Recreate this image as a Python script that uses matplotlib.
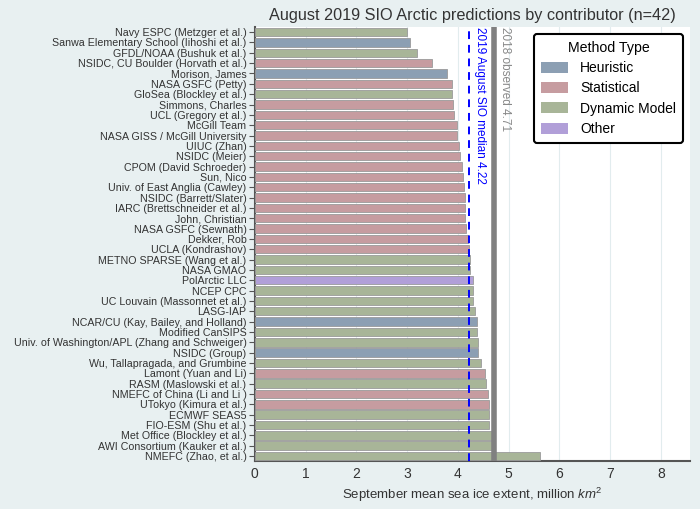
import matplotlib
matplotlib.use("Agg")
import matplotlib.pyplot as plt
from matplotlib.patches import Patch

plt.rcParams['font.family'] = ['Liberation Sans', 'DejaVu Sans']
plt.rcParams['mathtext.fontset'] = 'custom'
plt.rcParams['mathtext.it'] = 'Liberation Sans:italic'
plt.rcParams['mathtext.rm'] = 'Liberation Sans'

# contributors, top to bottom as in the chart
contributors = [
    "Navy ESPC (Metzger et al.)", "Sanwa Elementary School (Iihoshi et al.)",
    "GFDL/NOAA (Bushuk et al.)", "NSIDC, CU Boulder (Horvath et al.)",
    "Morison, James", "NASA GSFC (Petty)", "GloSea (Blockley et al.)",
    "Simmons, Charles", "UCL (Gregory et al.)", "McGill Team",
    "NASA GISS / McGill University", "UIUC (Zhan)", "NSIDC (Meier)",
    "CPOM (David Schroeder)", "Sun, Nico", "Univ. of East Anglia (Cawley)",
    "NSIDC (Barrett/Slater)", "IARC (Brettschneider et al.)", "John, Christian",
    "NASA GSFC (Sewnath)", "Dekker, Rob", "UCLA (Kondrashov)",
    "METNO SPARSE (Wang et al.)", "NASA GMAO", "PolArctic LLC", "NCEP CPC",
    "UC Louvain (Massonnet et al.)", "LASG-IAP", "NCAR/CU (Kay, Bailey, and Holland)",
    "Modified CanSIPS", "Univ. of Washington/APL (Zhang and Schweiger)",
    "NSIDC (Group)", "Wu, Tallapragada, and Grumbine", "Lamont (Yuan and Li)",
    "RASM (Maslowski et al.)", "NMEFC of China (Li and Li )", "UTokyo (Kimura et al.)",
    "ECMWF SEAS5", "FIO-ESM (Shu et al.)", "Met Office (Blockley et al.)",
    "AWI Consortium (Kauker et al.)", "NMEFC (Zhao, et al.)",
]
extent = [
    3.00, 3.05, 3.20, 3.50, 3.79, 3.88, 3.89, 3.90, 3.92, 3.98,
    3.99, 4.02, 4.04, 4.08, 4.11, 4.13, 4.15, 4.15, 4.15, 4.16,
    4.20, 4.23, 4.24, 4.25, 4.29, 4.30, 4.30, 4.34, 4.38, 4.38,
    4.39, 4.39, 4.46, 4.53, 4.56, 4.59, 4.61, 4.62, 4.62, 4.69,
    4.71, 5.62,
]
method = [
    "Dynamic Model", "Heuristic", "Dynamic Model", "Statistical", "Heuristic",
    "Statistical", "Dynamic Model", "Statistical", "Statistical", "Statistical",
    "Statistical", "Statistical", "Statistical", "Statistical", "Statistical",
    "Statistical", "Statistical", "Statistical", "Statistical", "Statistical",
    "Statistical", "Statistical", "Dynamic Model", "Dynamic Model", "Other",
    "Dynamic Model", "Dynamic Model", "Dynamic Model", "Heuristic", "Dynamic Model",
    "Dynamic Model", "Heuristic", "Dynamic Model", "Statistical", "Dynamic Model",
    "Statistical", "Statistical", "Dynamic Model", "Dynamic Model", "Dynamic Model",
    "Dynamic Model", "Dynamic Model",
]
method_types = ["Heuristic", "Statistical", "Dynamic Model", "Other"]
median_2019 = 4.22
observed_2018 = 4.71

palette = {
    "Heuristic": "#8c9fb3",
    "Statistical": "#c69ca0",
    "Dynamic Model": "#a8b598",
    "Other": "#b19fd8",
}

fig = plt.figure(figsize=(7, 5.09), dpi=100, facecolor="#e8f0f1")
ax = fig.add_axes([0.364, 0.094, 0.622, 0.853])
ax.set_facecolor("white")

ypos = list(range(len(contributors)))
ax.barh(ypos, extent, height=0.82,
        color=[palette[m] for m in method],
        edgecolor="#9a9a9a", linewidth=0.6, zorder=3)

ax.axvline(median_2019, color="blue", linestyle=(0, (4, 3)), lw=1.4, zorder=4)
ax.axvline(observed_2018, color="#808080", lw=4, zorder=4)
ax.text(median_2019 + 0.1, -0.45, f"2019 August SIO median {median_2019:.2f}",
        rotation=-90, color="blue", fontsize=8.5, va="top", ha="left", zorder=5)
ax.text(observed_2018 + 0.1, -0.45, f"2018 observed {observed_2018:.2f}",
        rotation=-90, color="#888888", fontsize=8.5, va="top", ha="left", zorder=5)

ax.set_yticks(ypos)
ax.set_yticklabels(contributors, fontsize=7.7, color="#333333")
ax.set_ylim(len(contributors) - 0.5, -0.5)
ax.set_xlim(0, 8.58)
ax.set_xticks(range(0, 9))
ax.tick_params(axis="x", labelsize=10, colors="#333333", length=0, pad=4)
ax.tick_params(axis="y", length=4, width=0.8, color="#555555", pad=2)
ax.grid(axis="x", color="#e2ecee", lw=0.8, zorder=0)
ax.set_axisbelow(True)

for side in ["top", "right"]:
    ax.spines[side].set_visible(False)
for side in ["left", "bottom"]:
    ax.spines[side].set_color("#555555")
    ax.spines[side].set_linewidth(1.5)

ax.set_xlabel("September mean sea ice extent, million $km^2$", fontsize=9.5,
              color="#333333", labelpad=4)
ax.set_title("August 2019 SIO Arctic predictions by contributor (n=42)",
             fontsize=11.7, color="#333333", pad=5)

handles = [Patch(facecolor=palette[m], edgecolor="none", label=m) for m in method_types]
leg = ax.legend(handles=handles, title="Method Type", loc="upper right",
                fontsize=10, title_fontsize=10.2, frameon=True, fancybox=True,
                edgecolor="black", framealpha=1, handlelength=1.9, handleheight=0.85,
                borderpad=0.5, labelspacing=0.45, handletextpad=0.9,
                borderaxespad=0, bbox_to_anchor=(0.984, 0.984))
leg.get_frame().set_linewidth(1.5)

fig.savefig("out.png", dpi=100, facecolor=fig.get_facecolor())
